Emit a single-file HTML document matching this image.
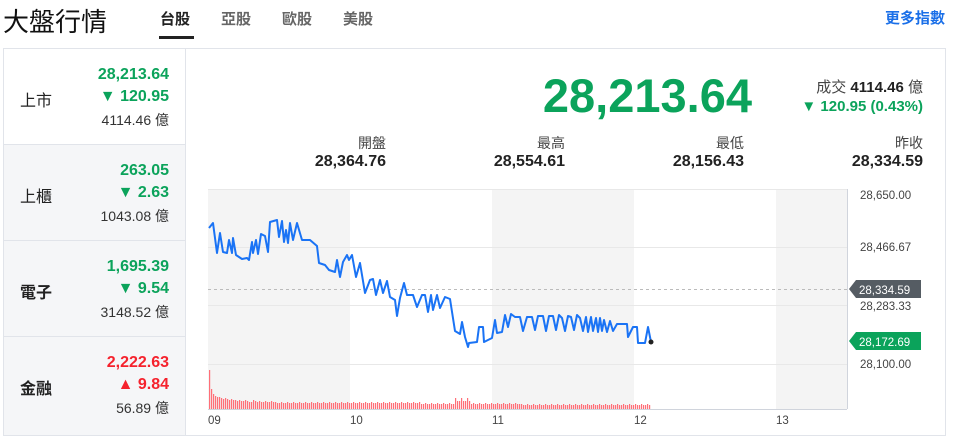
<!DOCTYPE html>
<html><head><meta charset="utf-8"><style>
*{margin:0;padding:0;box-sizing:border-box}
body{width:953px;height:445px;background:#fff;font-family:"Liberation Sans","Noto Sans CJK TC",sans-serif;position:relative;overflow:hidden;color:#222}
.a{position:absolute;white-space:nowrap}
.g{color:#0ba35b}.r{color:#f5222d}
.num{font-weight:bold}
.lab{color:#444;font-size:14px}
</style></head><body>
<div class="a" style="left:3px;top:2px;font-size:26px;color:#111">大盤行情</div>
<div class="a" style="left:160px;top:8px;font-size:15px;font-weight:bold;color:#222">台股</div>
<div class="a" style="left:159px;top:36px;width:35px;height:3px;background:#222"></div>
<div class="a" style="left:221px;top:8px;font-size:15px;color:#666;font-weight:bold">亞股</div>
<div class="a" style="left:282px;top:8px;font-size:15px;color:#666;font-weight:bold">歐股</div>
<div class="a" style="left:343px;top:8px;font-size:15px;color:#666;font-weight:bold">美股</div>
<div class="a" style="right:8px;top:7px;font-size:15px;color:#1a6fe8;font-weight:bold">更多指數</div>

<div class="a" style="left:3px;top:48px;width:943px;height:388px;border:1px solid #e1e4ea"></div>
<div class="a" style="left:3px;top:48px;width:183px;height:388px;border:1px solid #e1e4ea;background:#f5f6f8"></div>
<div class="a" style="left:3px;top:48px;width:183px;height:97px;border:1px solid #e1e4ea;background:#fff"></div>
<div class="a" style="left:3px;top:240px;width:183px;height:1px;background:#e1e4ea"></div>
<div class="a" style="left:3px;top:336px;width:183px;height:1px;background:#e1e4ea"></div>

<div class="a" style="left:20px;top:87px;font-size:16px">上市</div>
<div class="a g num" style="right:784px;top:66px;font-size:16px">28,213.64</div>
<div class="a g num" style="right:784px;top:88px;font-size:16px">▼ 120.95</div>
<div class="a" style="right:784px;top:110px;font-size:14px;color:#333">4114.46 億</div>

<div class="a" style="left:20px;top:183px;font-size:16px">上櫃</div>
<div class="a g num" style="right:784px;top:162px;font-size:16px">263.05</div>
<div class="a g num" style="right:784px;top:184px;font-size:16px">▼ 2.63</div>
<div class="a" style="right:784px;top:206px;font-size:14px;color:#333">1043.08 億</div>

<div class="a" style="left:20px;top:279px;font-size:16px;font-weight:bold">電子</div>
<div class="a g num" style="right:784px;top:258px;font-size:16px">1,695.39</div>
<div class="a g num" style="right:784px;top:280px;font-size:16px">▼ 9.54</div>
<div class="a" style="right:784px;top:302px;font-size:14px;color:#333">3148.52 億</div>

<div class="a" style="left:20px;top:375px;font-size:16px;font-weight:bold">金融</div>
<div class="a r num" style="right:784px;top:354px;font-size:16px">2,222.63</div>
<div class="a r num" style="right:784px;top:376px;font-size:16px">▲ 9.84</div>
<div class="a" style="right:784px;top:398px;font-size:14px;color:#333">56.89 億</div>

<div class="a g num" style="right:201px;top:69px;font-size:47px;line-height:54px">28,213.64</div>
<div class="a" style="right:30px;top:76px;font-size:15px;color:#444">成交 <b style="color:#222">4114.46</b> 億</div>
<div class="a g num" style="right:30px;top:98px;font-size:15px">▼ 120.95 (0.43%)</div>

<div class="a lab" style="right:567px;top:133px">開盤</div>
<div class="a num" style="right:567px;top:153px;font-size:16px">28,364.76</div>
<div class="a lab" style="right:388px;top:133px">最高</div>
<div class="a num" style="right:388px;top:153px;font-size:16px">28,554.61</div>
<div class="a lab" style="right:209px;top:133px">最低</div>
<div class="a num" style="right:209px;top:153px;font-size:16px">28,156.43</div>
<div class="a lab" style="right:30px;top:133px">昨收</div>
<div class="a num" style="right:30px;top:153px;font-size:16px">28,334.59</div>

<svg class="a" style="left:0;top:0" width="953" height="445">
<rect x="208" y="189" width="142" height="220" fill="#f4f4f4"/>
<rect x="492" y="189" width="142" height="220" fill="#f4f4f4"/>
<rect x="776" y="189" width="71" height="220" fill="#f4f4f4"/>
<g stroke="#e8e8e8" stroke-width="1">
<line x1="208" y1="189.5" x2="847" y2="189.5"/>
<line x1="208" y1="247.5" x2="847" y2="247.5"/>
<line x1="208" y1="305.5" x2="847" y2="305.5"/>
<line x1="208" y1="364.5" x2="847" y2="364.5"/>
</g>
<line x1="208" y1="409.5" x2="847" y2="409.5" stroke="#d0d4dc"/>
<line x1="847.5" y1="189" x2="847.5" y2="409" stroke="#d0d4dc"/>
<line x1="208" y1="289.5" x2="847" y2="289.5" stroke="#bbb" stroke-dasharray="3,3"/>
<g id="vol" fill="#ff6f78"></g>
<polyline fill="none" stroke="#1a73f5" stroke-width="2" stroke-linejoin="round" points="209,228 213,223 217,253 220,233 223,252 227,253 229,240 232,253 233,238 236,255 242,259 247,258 249,260 252,242 253,253 256,240 258,254 261,234 265,236 268,252 270,222 277,220 279,237 282,221 284,242 286,230 288,243 290,223 293,240 297,223 302,240 310,240 317,246 319,263 325,265 329,270 335,272 337,260 340,277 343,262 347,255 349,260 352,255 356,277 360,263 365,293 370,280 373,279 376,295 380,280 383,293 387,281 390,297 395,300 397,316 400,298 404,283 407,295 413,295 417,307 422,295 425,295 428,312 431,295 433,310 437,295 440,308 445,297 450,299 455,331 460,334 462,322 465,337 468,347 469,343 477,342 479,327 483,327 484,342 492,338 495,320 497,333 502,332 505,315 508,327 511,314 515,317 520,317 523,331 527,317 532,317 535,330 538,316 543,316 546,331 549,316 553,316 556,330 559,315 562,318 565,331 568,316 571,317 574,330 577,315 580,318 583,331 586,317 588,332 591,317 593,331 596,318 598,332 600,318 602,331 604,320 607,332 610,321 613,331 617,324 627,324 628,337 633,327 637,327 638,343 645,343 648,327 651,342"/>
<circle cx="651" cy="342" r="2.5" fill="#222"/>
<g font-family="Liberation Sans,sans-serif" font-size="11.5" fill="#444">
<text x="860" y="199">28,650.00</text>
<text x="860" y="251">28,466.67</text>
<text x="860" y="310">28,283.33</text>
<text x="860" y="368">28,100.00</text>
<text x="208" y="424">09</text>
<text x="350" y="424">10</text>
<text x="492" y="424">11</text>
<text x="634" y="424">12</text>
<text x="776" y="424">13</text>
</g>
<path d="M849,289 L856,280 L921,280 L921,298 L856,298 Z" fill="#555c63"/>
<text x="859" y="294" font-family="Liberation Sans,sans-serif" font-size="11.5" fill="#fff">28,334.59</text>
<path d="M849,341 L856,332 L921,332 L921,350 L856,350 Z" fill="#0ba35b"/>
<text x="859" y="346" font-family="Liberation Sans,sans-serif" font-size="11.5" fill="#fff">28,172.69</text>
</svg>
<script>
var g=document.getElementById('vol'),s='';
var h=[39,20,15,13,12,12,11,10,11,10,9,10,9,9,8,9,8,8,9,8,7,7,9,8,7,8,7,7,8,7,7,8,7];
for(var i=0,x=209;x<650;i++,x+=2){
 var v=i<h.length?h[i]:(6+((i*7)%3===0?1:0)-(x>420?1:0)-(x>520?1:0));
 if(x>=455&&x<=470)v=8+((i%3)==0?3:0);
 if(x==466||x==468)v=12;
 v=Math.max(v,4);
 s+='<rect x="'+x+'" y="'+(409-v)+'" width="1.2" height="'+v+'"/>';
}
g.innerHTML=s;
</script>
</body></html>
